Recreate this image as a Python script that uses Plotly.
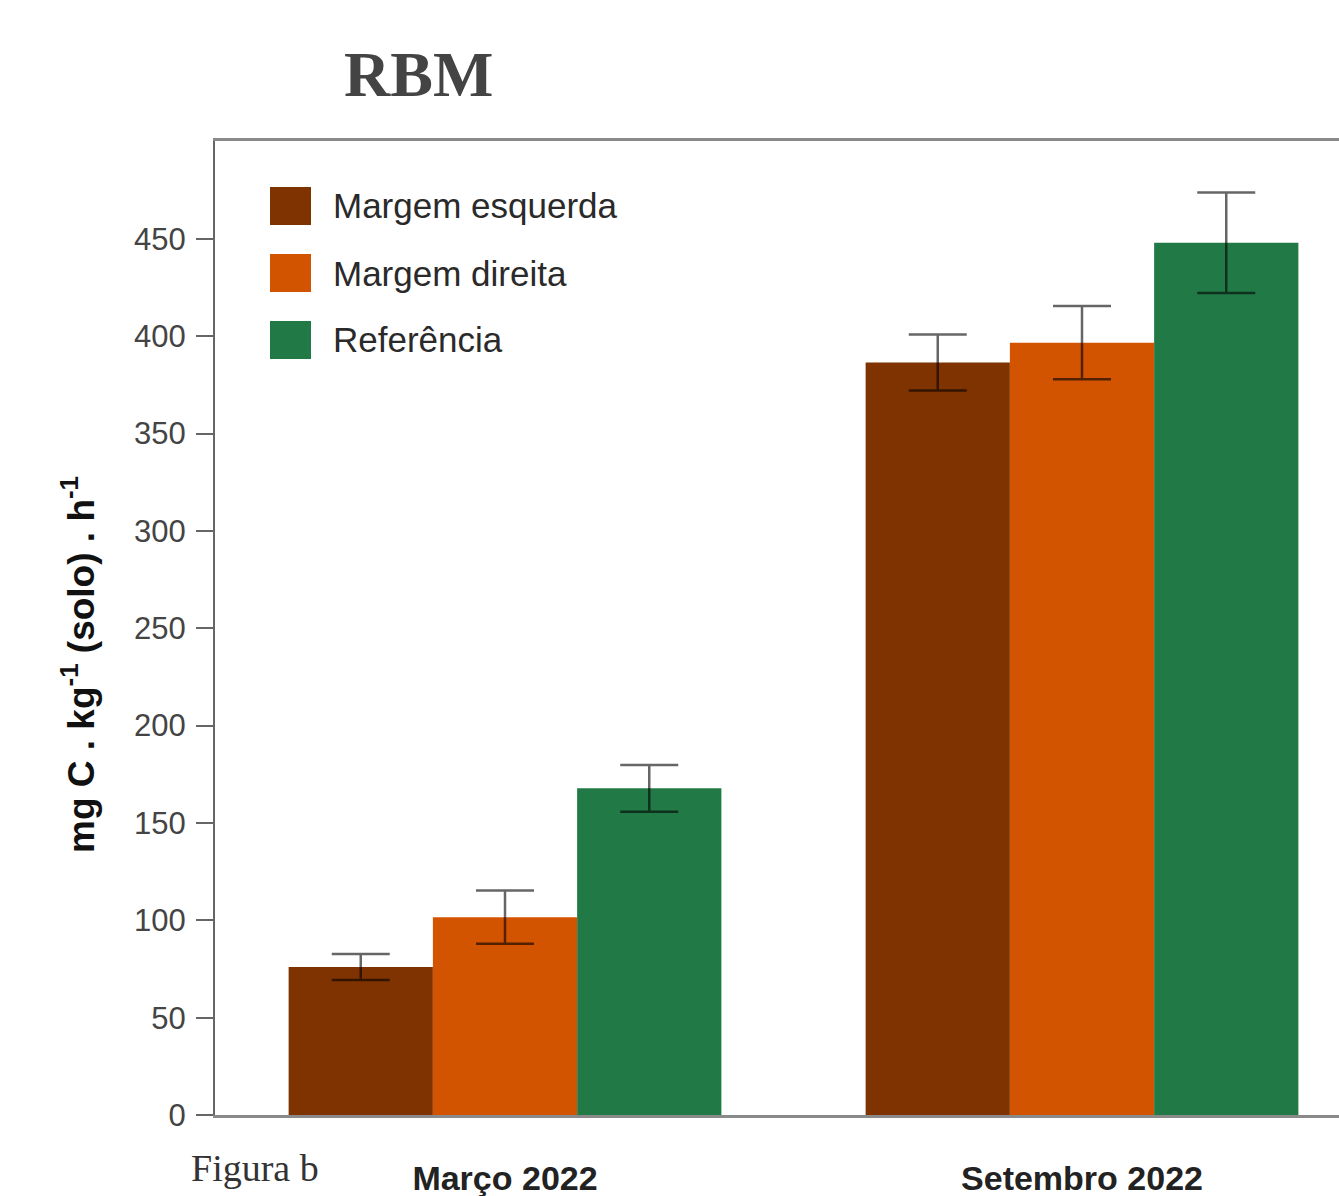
import plotly.graph_objects as go

# Soil basal respiration (RBM) by sampling campaign
campaigns = ["Março 2022", "Setembro 2022"]
series_names = ["Margem esquerda", "Margem direita", "Referência"]
margem_esquerda = [76.0, 386.5]
margem_esquerda_err = [6.7, 14.4]
margem_direita = [101.6, 396.7]
margem_direita_err = [13.7, 18.8]
referencia = [167.8, 448.0]
referencia_err = [12.0, 25.8]
y_ticks = [0, 50, 100, 150, 200, 250, 300, 350, 400, 450]

colors = ["#7f3300", "#d35400", "#217a46"]
values = [margem_esquerda, margem_direita, referencia]
errors = [margem_esquerda_err, margem_direita_err, referencia_err]

W, H = 1339, 1196
PL, PT, PB = 215, 141, 1115  # plot-area edges in pixels


def px(x):
    return (x - PL) / (W - PL)


def py(y):
    return (PB - y) / (PB - PT)


fig = go.Figure()
for name, vals, errs, col in zip(series_names, values, errors, colors):
    fig.add_trace(go.Bar(
        x=campaigns, y=vals, name=name,
        marker=dict(color=col, line=dict(width=0)),
        error_y=dict(type="data", array=errs, visible=True,
                     color="rgba(0,0,0,0.6)", thickness=2.5, width=29),
        showlegend=False,
    ))

# Custom legend with large colour swatches
legend_rows_y = [206, 273, 340]
for name, col, yc in zip(series_names, colors, legend_rows_y):
    fig.add_shape(type="rect", xref="paper", yref="paper",
                  x0=px(270), x1=px(311), y0=py(yc + 19), y1=py(yc - 19),
                  fillcolor=col, line=dict(width=0), layer="above")
    fig.add_annotation(xref="paper", yref="paper", x=px(331), y=py(yc),
                       text=name, showarrow=False, xanchor="left", yanchor="middle",
                       font=dict(family="Liberation Sans, Arial", size=35, color="#2a2a2a"))

# Rotated y-axis title
fig.add_annotation(xref="paper", yref="paper", x=px(78), y=py(665),
                   text="<b>mg C . kg<sup>-1</sup> (solo) . h<sup>-1</sup></b>",
                   textangle=-90, showarrow=False, xanchor="center", yanchor="middle",
                   font=dict(family="Liberation Sans, Arial", size=37, color="#111"))

# Title and caption
fig.add_annotation(xref="paper", yref="paper", x=px(418), y=py(75),
                   text="<b>RBM</b>", showarrow=False, xanchor="center", yanchor="middle",
                   font=dict(family="Liberation Serif, Times New Roman", size=64, color="#444"))
fig.add_annotation(xref="paper", yref="paper", x=px(189), y=py(1168),
                   text="Figura b", showarrow=False, xanchor="left", yanchor="middle",
                   font=dict(family="Liberation Serif, Times New Roman", size=38, color="#333"))

fig.update_layout(
    width=W, height=H,
    margin=dict(l=PL, r=0, t=PT, b=H - PB),
    paper_bgcolor="white", plot_bgcolor="white",
    barmode="group", bargap=0.25, bargroupgap=0,
    xaxis=dict(range=[-0.5026, 1.4454], showline=True, linecolor="#8a8a8a", linewidth=2.5,
               mirror=True, ticks="", showgrid=False, zeroline=False, automargin=False,
               tickfont=dict(family="Liberation Sans, Arial", size=34, color="#222"),
               tickprefix="<b>", ticksuffix="</b>", ticklabelstandoff=31),
    yaxis=dict(range=[0, 500.3], tickvals=y_ticks, showline=True, linecolor="#666",
               linewidth=2, ticks="outside", ticklen=17, tickwidth=2, tickcolor="#666",
               showgrid=False, zeroline=False, ticklabelstandoff=4, automargin=False,
               tickfont=dict(family="Liberation Sans, Arial", size=31, color="#444")),
)

fig.write_html("out.html")
